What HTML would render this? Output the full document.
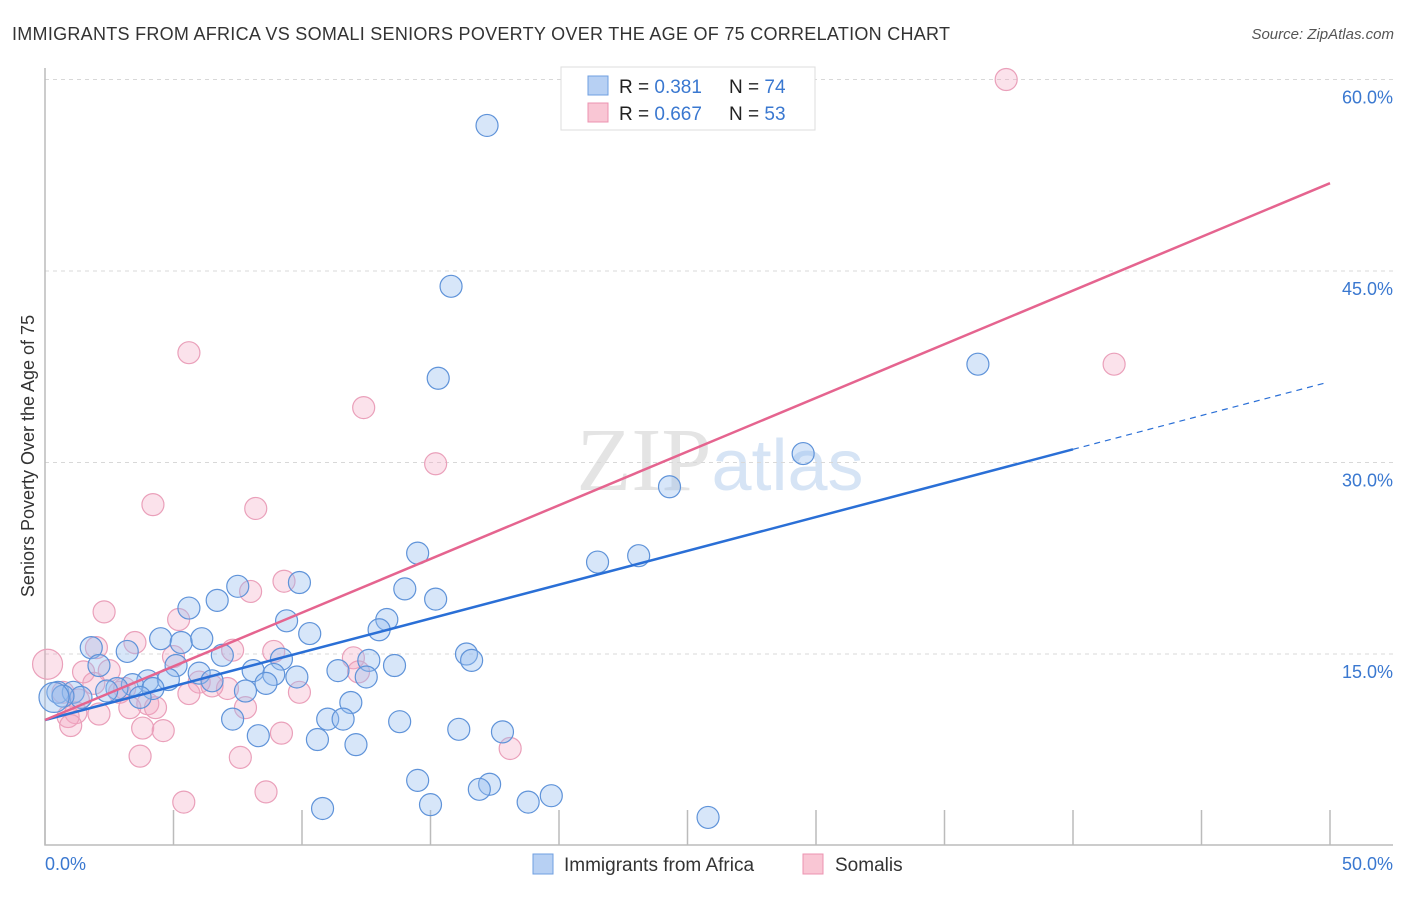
<!DOCTYPE html>
<html><head><meta charset="utf-8"><style>
body{margin:0;background:#fff;font-family:"Liberation Sans",sans-serif;}
</style></head><body>
<svg width="1406" height="892" xmlns="http://www.w3.org/2000/svg" font-family="Liberation Sans, sans-serif">
<text x="12" y="40" font-size="18" fill="#333" textLength="938">IMMIGRANTS FROM AFRICA VS SOMALI SENIORS POVERTY OVER THE AGE OF 75 CORRELATION CHART</text>
<text x="1394" y="39" font-size="15" fill="#555" text-anchor="end" font-style="italic">Source: ZipAtlas.com</text>
<text x="720" y="490" font-size="90" fill="#e4e4e4" text-anchor="middle" font-family="Liberation Serif, serif">ZIP<tspan fill="#d6e4f5" font-family="Liberation Sans, sans-serif" font-size="72">atlas</tspan></text>
<g id="grid"></g>
<g id="axes"></g>
<g id="pts"></g>
<g id="trend"></g>
<text transform="translate(34,456) rotate(-90)" font-size="18" fill="#333" text-anchor="middle">Seniors Poverty Over the Age of 75</text>
<text x="45" y="870" font-size="18" fill="#3a78d0">0.0%</text>
<text x="1393" y="870" font-size="18" fill="#3a78d0" text-anchor="end">50.0%</text>
<g>
<rect x="561" y="67" width="254" height="63" fill="#fff" stroke="#ddd"/>
<rect x="588" y="76" width="20" height="19" fill="#b7d0f3" stroke="#6f9fe0"/>
<rect x="588" y="103" width="20" height="19" fill="#f9c6d4" stroke="#ec93b0"/>
<text x="619" y="93" font-size="19" fill="#222">R = <tspan fill="#3a78d0">0.381</tspan><tspan x="729">N = </tspan><tspan fill="#3a78d0">74</tspan></text>
<text x="619" y="120" font-size="19" fill="#222">R = <tspan fill="#3a78d0">0.667</tspan><tspan x="729">N = </tspan><tspan fill="#3a78d0">53</tspan></text>
</g>
<g>
<rect x="533" y="854" width="20" height="20" fill="#b7d0f3" stroke="#6f9fe0"/>
<text x="564" y="871" font-size="19" fill="#333">Immigrants from Africa</text>
<rect x="803" y="854" width="20" height="20" fill="#f9c6d4" stroke="#ec93b0"/>
<text x="835" y="871" font-size="19" fill="#333">Somalis</text>
</g>
</svg>
<script>
const yTicks=[15,30,45,60];
const yTickLabels=["15.0%","30.0%","45.0%","60.0%"];
const xTicks=[0,5,10,15,20,25,30,35,40,45,50];
const blueX=[17.2,15.8,15.3,36.3,29.5,24.3,14.5,21.5,23.1,7.5,9.9,14.0,15.2,6.7,5.6,9.4,13.3,13.0,10.3,4.5,5.3,6.1,1.8,3.2,6.9,9.2,16.4,16.6,12.6,13.6,11.4,2.1,5.1,6.0,8.1,8.9,9.8,12.5,4.0,4.8,6.5,8.6,3.4,2.8,4.2,7.8,2.4,0.5,1.1,1.4,0.7,11.9,3.7,11.0,11.6,7.3,13.8,16.1,17.8,8.3,10.6,12.1,14.5,17.3,16.9,19.7,18.8,15.0,10.8,25.8,27.5,0.35];
const blueY=[56.4,43.8,36.6,37.7,30.7,28.1,22.9,22.2,22.7,20.3,20.6,20.1,19.3,19.2,18.6,17.6,17.7,16.9,16.6,16.2,15.9,16.2,15.5,15.2,14.9,14.6,15.0,14.5,14.5,14.1,13.7,14.1,14.1,13.5,13.7,13.4,13.2,13.2,12.9,13.0,12.9,12.7,12.6,12.3,12.3,12.1,12.1,12.0,12.0,11.6,11.7,11.2,11.6,9.9,9.9,9.9,9.7,9.1,8.9,8.6,8.3,7.9,5.1,4.8,4.4,3.9,3.4,3.2,2.9,2.2,60.0,11.6];
const pinkX=[37.4,41.6,5.6,12.4,15.2,4.2,8.2,9.3,8.0,2.3,5.2,3.5,2.0,8.9,7.3,12.0,5.0,0.1,1.5,2.5,12.2,1.9,6.0,7.1,3.1,2.9,6.5,5.6,9.9,0.7,1.3,4.0,7.8,3.3,4.3,1.2,2.1,0.9,1.0,3.8,4.6,9.2,18.1,3.7,7.6,8.6,5.4];
const pinkY=[60.0,37.7,38.6,34.3,29.9,26.7,26.4,20.7,19.9,18.3,17.7,15.9,15.5,15.2,15.3,14.7,14.8,14.2,13.6,13.7,13.6,12.7,12.8,12.3,12.3,12.0,12.5,11.9,12.0,12.0,11.4,11.1,10.8,10.8,10.8,10.4,10.3,10.1,9.4,9.2,9.0,8.8,7.6,7.0,6.9,4.2,3.4];
const blueTrend=[9.83,0.53];
const pinkTrend=[9.83,0.841];
const NS="http://www.w3.org/2000/svg";
const X0=45,X1=1330,YB=845.5,YT=79.5;
const sx=v=>X0+(v/50)*(X1-X0);
const sy=v=>YB-(v/60)*(YB-YT);
function mk(t,a,p){const e=document.createElementNS(NS,t);for(const k in a)e.setAttribute(k,a[k]);p.appendChild(e);return e;}
const grid=document.getElementById('grid'),axes=document.getElementById('axes'),pts=document.getElementById('pts'),trend=document.getElementById('trend');
yTicks.forEach((v,i)=>{
 const l=mk('line',{x1:X0,x2:1393,y1:sy(v),y2:sy(v),stroke:'#d8d8d8','stroke-dasharray':'4,4'},grid);
 
 
 const t=mk('text',{x:1393,y:sy(v)+24,'font-size':18,fill:'#3a78d0','text-anchor':'end'},axes);
 t.textContent=yTickLabels[i];
 
 
});
const ax=mk('path',{d:`M${X0} 68 V845 H1393`,stroke:'#bbb',fill:'none','stroke-width':1.5},axes);


xTicks.forEach(v=>{
 const l=mk('line',{x1:sx(v),x2:sx(v),y1:810,y2:845,stroke:'#bbb','stroke-width':1.5},axes);
 
 
});
function dots(xs,ys,fill,stroke,name){xs.forEach((x,i)=>{
 const c=mk('circle',{cx:sx(x),cy:sy(ys[i]),r:(x<0.5?15:11),fill:fill,stroke:stroke,'stroke-width':1.2},pts);
 
 
});}
dots(pinkX,pinkY,'rgba(244,166,192,0.32)','#eaa0ba','somali-point');
dots(blueX,blueY,'rgba(150,190,238,0.38)','#5f93d9','africa-point');
const b1=mk('line',{x1:sx(0),y1:sy(blueTrend[0]),x2:sx(40),y2:sy(blueTrend[0]+40*blueTrend[1]),stroke:'#2a6fd6','stroke-width':2.5},trend);


const b2=mk('line',{x1:sx(40),y1:sy(blueTrend[0]+40*blueTrend[1]),x2:sx(49.8),y2:sy(blueTrend[0]+49.8*blueTrend[1]),stroke:'#2a6fd6','stroke-width':1.2,'stroke-dasharray':'6,5'},trend);


const p1=mk('line',{x1:sx(0),y1:sy(pinkTrend[0]),x2:sx(50),y2:sy(pinkTrend[0]+50*pinkTrend[1]),stroke:'#e5648f','stroke-width':2.5},trend);


</script>
</body></html>
